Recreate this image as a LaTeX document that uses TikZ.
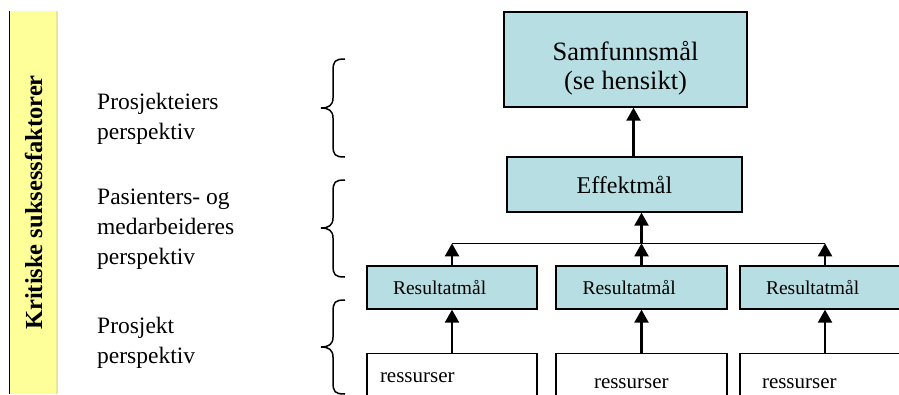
\documentclass[tikz,border=0pt]{standalone}
\usepackage{fontspec}
\setmainfont{Liberation Serif}
\usetikzlibrary{arrows.meta,calc}

\definecolor{goalfill}{RGB}{183,222,226}
\definecolor{barfill}{RGB}{255,255,153}
\definecolor{baredge}{RGB}{232,232,150}

\tikzset{
    goal/.style={draw, fill=goalfill, line width=1.3pt, align=center, inner sep=0pt},
    resgoal/.style={goal, minimum width=170pt, minimum height=43pt, text width=118pt,
        inner xsep=26pt, align=left, font=\fontsize{19.5}{23}\selectfont},
    srcbox/.style={draw, line width=1.3pt, anchor=north, minimum width=170pt, align=left,
        font=\fontsize{21}{25}\selectfont},
    persp/.style={anchor=base west, align=left, inner sep=0pt, font=\fontsize{23.5}{30}\selectfont},
    up/.style={-{Triangle[width=14pt,length=13pt]}, line width=2.2pt},
    bracket/.style={line width=1.5pt}
}

\begin{document}
\begin{tikzpicture}[x=1pt, y=-1pt]
    \useasboundingbox (0,0) rectangle (899,394);

    % side bar
    \node[fill=barfill, rotate=90, minimum width=383pt, minimum height=48.5pt, inner sep=0pt,
        font=\fontsize{24.5}{29}\selectfont\bfseries] (ksf) at (33.75,202.5) {Kritiske suksessfaktorer};
    \draw[line width=2.5pt, baredge] ([xshift=-1.25pt]ksf.south west) -- ([xshift=-1.25pt]ksf.south east);
    \draw[line width=1.3pt] (ksf.north west) -- (ksf.north east);

    % perspectives (anchored at the last baseline)
    \node[persp] (p1) at (97,139) {Prosjekteiers\\perspektiv};
    \node[persp] (p2) at (97,264) {Pasienters- og\\medarbeideres\\perspektiv};
    \node[persp] (p3) at (97,363) {Prosjekt\\perspektiv};

    \foreach \t/\m/\b in {59/108/157, 180/228/277, 300/347/394} {
        \draw[bracket] (345,\t) .. controls (335,\t) and (333,\t+2) .. (333,\t+12) -- (333,\m-10)
            .. controls (333,\m-3) and (329,\m) .. (321,\m)
            .. controls (329,\m) and (333,\m+3) .. (333,\m+10) -- (333,\b-12)
            .. controls (333,\b-2) and (335,\b) .. (345,\b);
    }

    % goals
    \node[goal, minimum width=243pt, minimum height=95pt,
        label={[align=center, yshift=-9pt, font=\fontsize{26.5}{29}\selectfont]center:{Samfunnsmål\\(se hensikt)}}] (samf) at (625.5,59.5) {};
    \node[goal, minimum width=235pt, minimum height=55pt, font=\fontsize{24}{29}\selectfont] (eff) at (624.5,184.5) {Effektmål};

    \node[resgoal] (res1) at (452,287.5) {Resultatmål};
    \node[resgoal, minimum width=171pt] (res2) at (641.5,287.5) {Resultatmål};
    \node[resgoal] (res3) at (825,287.5) {Resultatmål};

    \node[srcbox, minimum height=48.6pt, inner xsep=13pt, text width=144pt] (rs1) at (452,352.7) {ressurser};
    \node[srcbox, minimum height=60.6pt, inner xsep=38pt, text width=95pt] (rs2) at (641.5,352.7) {ressurser};
    \node[srcbox, minimum height=60.6pt, inner xsep=22pt, text width=126pt] (rs3) at (825,352.7) {ressurser};

    % connectors
    \coordinate (bus) at ($(res2.north)+(0,-22)$);
    \draw[up] ($(eff.north)+(9,0)$) coordinate (e1) -- (e1 |- samf.south);
    \draw[line width=1.3pt] (res1.north |- bus) -- (res3.north |- bus);
    \draw[up] (bus) -- (bus |- eff.south);
    \foreach \n in {1,2,3} {
        \draw[up] (res\n.north) -- (res\n.north |- bus);
        \draw[up] (rs\n.north) -- (res\n.south);
    }
\end{tikzpicture}
\end{document}
